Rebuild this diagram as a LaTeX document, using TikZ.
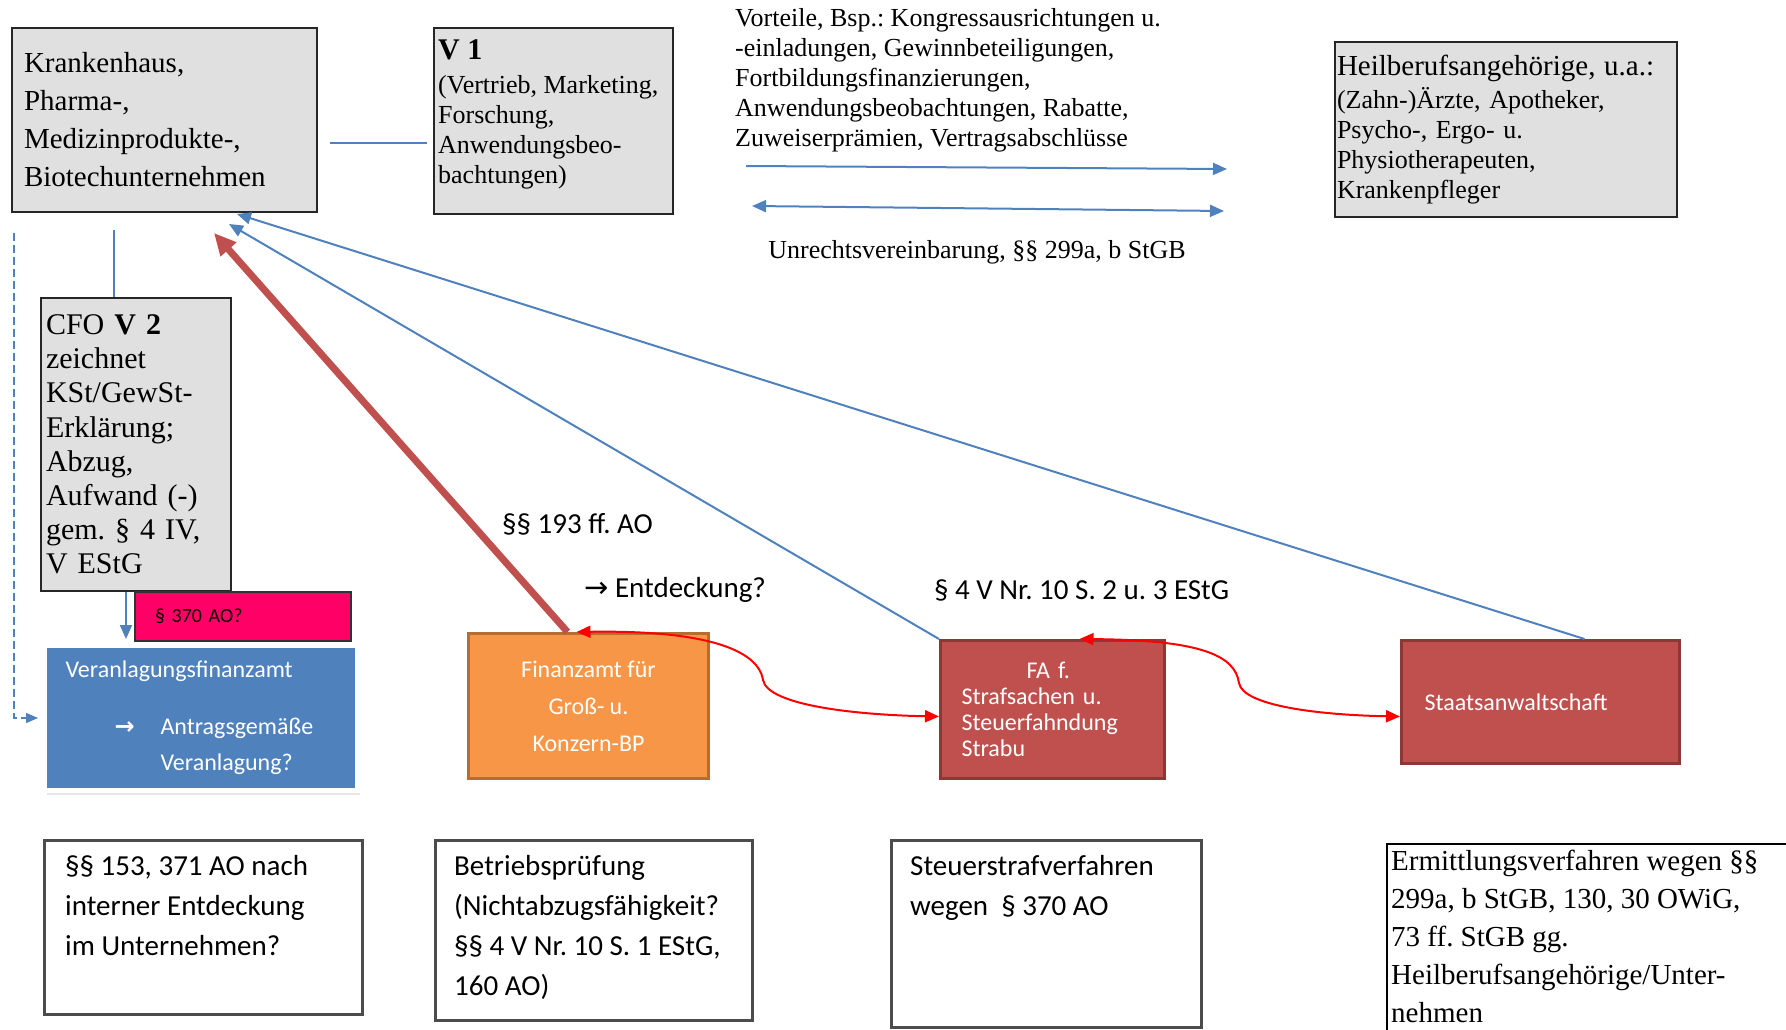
\documentclass[tikz,border=0pt]{standalone}
\usepackage{fontspec}
\setmainfont{Liberation Serif}
\newfontfamily\calibri{Carlito}
\newfontfamily\arrowfont{DejaVu Sans}
\usetikzlibrary{positioning,arrows.meta,calc,shadows}
\frenchspacing

\definecolor{boxgrey}{HTML}{E0E0E0}
\definecolor{officeblue}{HTML}{4F81BD}
\definecolor{officeorange}{HTML}{F79646}
\definecolor{orangeedge}{HTML}{B66D31}
\definecolor{officered}{HTML}{C0504D}
\definecolor{rededge}{HTML}{8C3836}
\definecolor{alertpink}{HTML}{FF0066}

\begin{document}
\begin{tikzpicture}[
        x=1pt, y=-1pt,
        greybox/.style={draw=black!85, fill=boxgrey, line width=2pt, inner sep=0pt, align=left},
        plainbox/.style={draw=black!70, line width=2.5pt, inner sep=0pt},
        bluebox/.style={fill=officeblue, draw=white, line width=5pt, drop shadow={opacity=0.2, shadow xshift=2pt, shadow yshift=-4pt}, text=white, font=\calibri\fontsize{24}{36}\selectfont, align=left, inner sep=0pt},
        orangebox/.style={fill=officeorange, draw=orangeedge, line width=3pt, text=white, font=\calibri\fontsize{24}{37}\selectfont, align=center},
        redbox/.style={fill=officered, draw=rededge, line width=3pt, text=white, font=\calibri\fontsize{24}{26}\selectfont, align=left, inner sep=0pt},
        pinkbox/.style={fill=alertpink, draw=black!80, line width=2pt, font=\calibri\fontsize{20}{24}\selectfont, align=left, inner sep=0pt},
        serifbig/.style={font=\fontsize{29}{38}\selectfont},
        seriftext/.style={font=\fontsize{26}{30}\selectfont},
        calibritext/.style={font=\calibri\fontsize{29}{40}\selectfont, align=left, inner sep=0pt},
        blueline/.style={officeblue, line width=2pt},
        bluearrow/.style={officeblue, line width=2pt, -{Triangle[length=14pt,width=12pt]}},
        bluedouble/.style={officeblue, line width=2pt, {Triangle[length=14pt,width=12pt]}-{Triangle[length=14pt,width=12pt]}},
        redarrow/.style={officered, line width=7pt, -{Triangle[length=22pt,width=20pt]}},
        redcurve/.style={red, line width=2pt, {Triangle[length=14pt,width=12pt]}-{Triangle[length=14pt,width=12pt]}}
    ]
        \clip (0,0) rectangle (1786,1030);

        % Top row: company, V 1, advantages, health professionals
        \node[greybox, serifbig, minimum width=305pt, minimum height=184pt, text width=281pt, anchor=north west] (kh) at (11,27)
            {Krankenhaus,\\Pharma-,\\Medizinprodukte-,\\Biotechunternehmen};
        \node[greybox, minimum width=239pt, minimum height=186pt, anchor=north west] (v1) at (433,27) {};
        \node[seriftext, align=left, inner sep=0pt, anchor=north west] (v1text) at ([shift={(5,12)}]v1.north west)
            {{\fontsize{30}{30}\selectfont\bfseries V 1}\\[4pt](Vertrieb, Marketing,\\Forschung,\\Anwendungsbeo-\\bachtungen)};
        \node[seriftext, align=left, inner sep=0pt, anchor=north west] (benefits) at (735,8)
            {Vorteile, Bsp.: Kongressausrichtungen u.\\-einladungen, Gewinnbeteiligungen,\\Fortbildungsfinanzierungen,\\Anwendungsbeobachtungen, Rabatte,\\Zuweiserprämien, Vertragsabschlüsse};
        \node[greybox, seriftext, minimum width=342pt, minimum height=175pt, text width=338pt, anchor=north west] (hb) at (1334,41)
            {{\fontsize{29}{30}\selectfont Heilberufsangehörige, u.a.:}\\[3pt](Zahn-)Ärzte, Apotheker,\\Psycho-, Ergo- u.\\Physiotherapeuten,\\Krankenpfleger};
        \node[seriftext, inner sep=0pt] (deal) at (977,252) {Unrechtsvereinbarung, §§ 299a, b StGB};

        % Arrows between company and health professionals
        \coordinate (giveL) at (746,166);
        \coordinate (giveR) at (1227,169);
        \coordinate (dealL) at (752,206);
        \coordinate (dealR) at (1224,211);
        \draw[bluearrow] (giveL) -- (giveR);
        \draw[bluedouble] (dealL) -- (dealR);

        \draw[blueline] ([shift={(12,23)}]kh.east) -- ([shift={(-6,22)}]v1.west);

        % Left column: CFO and tax office
        \node[greybox, font=\fontsize{30}{34.2}\selectfont, minimum width=190pt, minimum height=293pt, text width=180pt, anchor=north west] (cfo) at (40,297)
            {CFO \textbf{V 2}\\zeichnet\\KSt/GewSt-\\Erklärung;\\Abzug,\\Aufwand (-)\\gem. § 4 IV,\\V EStG};
        \node[pinkbox, minimum width=216pt, minimum height=49pt, text width=176pt, anchor=north west] (sec370) at (134,591) {§ 370 AO?};
        \node[bluebox, minimum width=313pt, minimum height=145pt, text width=271pt, anchor=north west] (vb) at (42,643)
            {Veranlagungsfinanzamt\\[21pt]\hspace*{49pt}\makebox[46pt][l]{\arrowfont\bfseries →}Antragsgemäße\\\hspace*{95pt}Veranlagung?};

        \draw[blueline] ([xshift=-22pt]cfo.north) -- ++(0,-67);
        \coordinate (cfodrop) at ([xshift=-10pt]cfo.south);
        \draw[bluearrow, shorten >=4pt] (cfodrop) -- (cfodrop |- vb.north);
        \coordinate (selfreport) at (14,233);
        \draw[officeblue, dash pattern=on 8pt off 4pt, line width=1.5pt, -{Triangle[length=12pt,width=10pt]}, shorten >=4pt] (selfreport) |- (vb.west);

        % Authorities
        \node[orangebox, minimum width=240pt, minimum height=145pt, anchor=north west] (fin) at (467,632) {Finanzamt für\\Groß- u.\\Konzern-BP};
        \node[redbox, minimum width=224pt, minimum height=138pt, text width=182pt, anchor=north west] (fa) at (939,639)
            {\hspace*{65pt}FA f.\\Strafsachen u.\\Steuerfahndung\\Strabu};
        \node[redbox, minimum width=278pt, minimum height=123pt, text width=232pt, anchor=north west] (sta) at (1400,639) {Staatsanwaltschaft};

        % Labels
        \node[calibritext, anchor=west] (bplabel) at (502,524) {§§ 193 ff. AO};
        \node[calibritext, anchor=west] (discovery) at (584,590) {{\arrowfont →} Entdeckung?};
        \node[calibritext, anchor=west] (nondeduct) at (934,590) {§ 4 V Nr. 10 S. 2 u. 3 EStG};

        % Connectors back to the company
        \draw[redarrow] ([xshift=-21pt]fin.north) -- ([shift={(49.5,20)}]kh.south);
        \draw[bluearrow] (fa.north west) -- ([shift={(64.5,11)}]kh.south);
        \draw[bluearrow] ([xshift=44pt]sta.north) -- ([shift={(72.5,1)}]kh.south);

        % Information exchange between authorities
        \draw[redcurve] ([xshift=-12pt]fin.north) .. controls (700,630) and (758,648) .. (763,680) .. controls (768,706) and (860,715) .. ([yshift=-7pt]fa.west);
        \draw[redcurve] ([xshift=27pt]fa.north) .. controls (1200,640) and (1235,655) .. (1239,683) .. controls (1243,706) and (1320,715) .. ([yshift=-14.5pt]sta.west);

        % Bottom row: procedures
        \node[plainbox, minimum width=318pt, minimum height=174pt, anchor=north west] (selfdisc) at (43,839) {};
        \node[calibritext, anchor=north west] (selfdisctext) at ([shift={(22,16)}]selfdisc.north west)
            {§§ 153, 371 AO nach\\interner Entdeckung\\im Unternehmen?};
        \node[plainbox, minimum width=317pt, minimum height=180pt, anchor=north west] (audit) at (434,839) {};
        \node[calibritext, anchor=north west] (audittext) at ([shift={(20,16)}]audit.north west)
            {Betriebsprüfung\\(Nichtabzugsfähigkeit?\\§§ 4 V Nr. 10 S. 1 EStG,\\160 AO)};
        \node[plainbox, minimum width=310pt, minimum height=187pt, anchor=north west] (taxcrime) at (890,839) {};
        \node[calibritext, anchor=north west] (taxcrimetext) at ([shift={(20,16)}]taxcrime.north west)
            {Steuerstrafverfahren\\wegen\ \ § 370 AO};
        \node[draw=black, line width=1.5pt, minimum width=420pt, minimum height=220pt, anchor=north west] (inquiry) at (1386,843) {};
        \node[serifbig, align=left, inner sep=0pt, anchor=north west] (inquirytext) at ([shift={(5,7)}]inquiry.north west)
            {Ermittlungsverfahren wegen §§\\299a, b StGB, 130, 30 OWiG,\\73 ff. StGB gg.\\Heilberufsangehörige/Unter-\\nehmen};
\end{tikzpicture}
\end{document}
